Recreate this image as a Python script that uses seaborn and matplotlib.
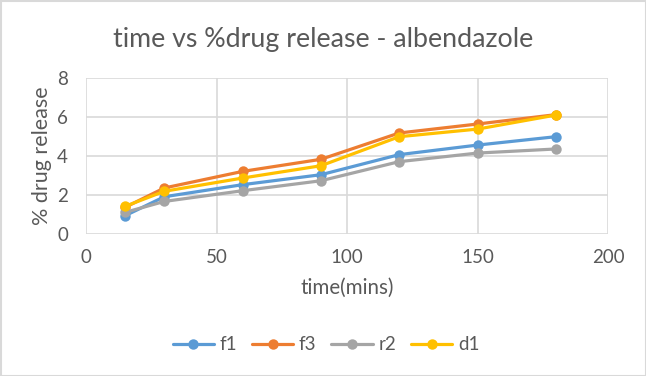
import matplotlib
matplotlib.use("Agg")
import matplotlib.pyplot as plt
import seaborn as sns
import pandas as pd
from matplotlib.patches import Rectangle
from matplotlib.lines import Line2D

time_mins = [15, 30, 60, 90, 120, 150, 180]
f1 = [0.94, 1.91, 2.53, 3.04, 4.07, 4.56, 4.99]
f3 = [1.37, 2.36, 3.21, 3.83, 5.18, 5.64, 6.12]
r2 = [1.11, 1.67, 2.22, 2.73, 3.71, 4.15, 4.36]
d1 = [1.42, 2.19, 2.87, 3.50, 4.99, 5.38, 6.10]
series_names = ["f1", "f3", "r2", "d1"]
colors = ["#5B9BD5", "#ED7D31", "#A5A5A5", "#FFC000"]

rows = []
for name, vals in zip(series_names, [f1, f3, r2, d1]):
    for t, v in zip(time_mins, vals):
        rows.append({"time": t, "release": v, "series": name})
df = pd.DataFrame(rows)

sns.set_style("white")
plt.rcParams['font.family'] = ['Lato', 'DejaVu Sans']
txt = "#595959"

fig = plt.figure(figsize=(6.46, 3.76), dpi=100)
ax = fig.add_axes([86/646, 1-234/376, 522/646, 156/376])

sns.lineplot(data=df, x="time", y="release", hue="series", hue_order=series_names,
             palette=colors, marker="o", markersize=7.5, markeredgewidth=0,
             linewidth=2.3, ax=ax, legend=False)

ax.set_xlim(0, 200)
ax.set_ylim(0, 8)
ax.set_xticks([0, 50, 100, 150, 200])
ax.set_yticks([0, 2, 4, 6, 8])
ax.grid(True, color="#D9D9D9", linewidth=1.2)
ax.set_axisbelow(True)
for s in ax.spines.values():
    s.set_visible(False)
ax.tick_params(axis="both", length=0, labelsize=13.5, colors=txt)
ax.tick_params(axis="x", pad=11)
ax.tick_params(axis="y", pad=13)
ax.set_xlabel("time(mins)", fontsize=14.8, color=txt, labelpad=8)
ax.set_ylabel("% drug release", fontsize=15.5, color=txt, labelpad=4)

fig.text(0.5, 1-40/376, "time vs %drug release - albendazole", ha="center", va="center",
         fontsize=19.3, color=txt)

handles = [Line2D([0], [0], color=c, marker="o", markersize=7.5, markeredgewidth=0, linewidth=2.3)
           for c in colors]
fig.legend(handles, series_names, loc="center", bbox_to_anchor=(326/646, 1-345/376), ncol=4,
           frameon=False, fontsize=13.5, labelcolor=txt, handlelength=2.2, columnspacing=0.8,
           handletextpad=0.3)

fig.patches.append(Rectangle((0.5/646, 0.5/376), 1-1/646, 1-1/376, transform=fig.transFigure,
                             fill=False, edgecolor="#D9D9D9", linewidth=1.5))

fig.savefig("out.png", dpi=100)
